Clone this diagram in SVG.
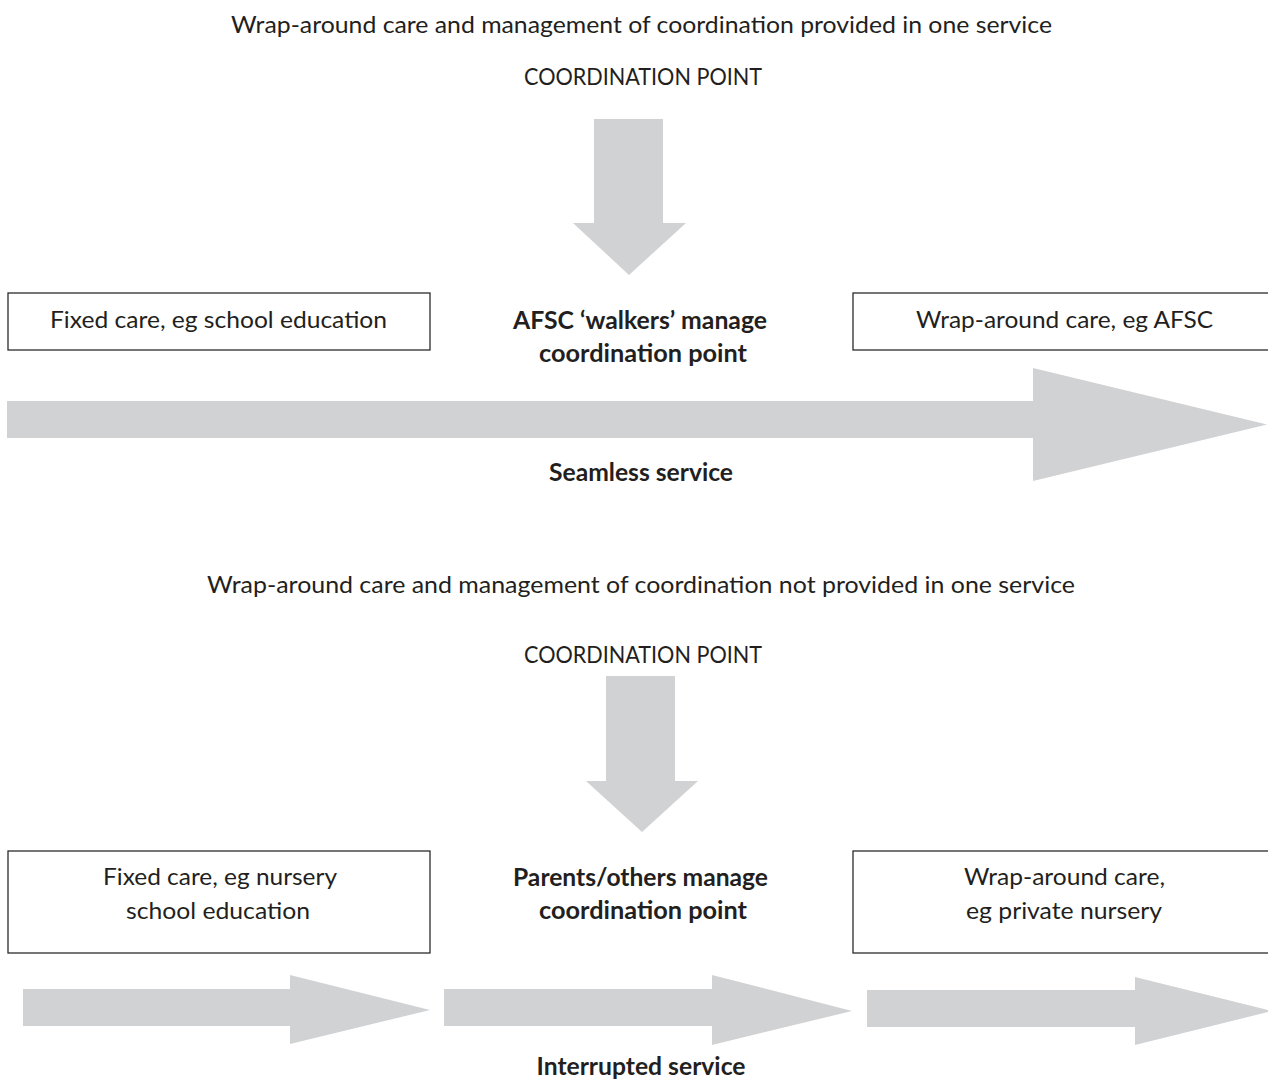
<svg xmlns="http://www.w3.org/2000/svg" width="1268" height="1084" viewBox="0 0 1268 1084">
  <style>
    .bg { fill: #ffffff; }
    .arrow { fill: #d1d2d4; stroke: none; }
    .box { fill: #ffffff; stroke: #2b2b2b; stroke-width: 1.3; }
    text { font-family: Lato, "Liberation Sans", sans-serif; fill: #231f20; text-anchor: middle; }
    .reg { font-size: 23px; }
    .bold { font-size: 24px; font-weight: bold; }
  </style>

  <rect class="bg" x="0" y="0" width="1268" height="1084"/>

  <!-- Upper panel: seamless service -->
  <g id="panel-top-titles">
    <text class="reg" x="641.5" y="33" textLength="821" lengthAdjust="spacingAndGlyphs">Wrap-around care and management of coordination provided in one service</text>
    <text class="reg" x="643" y="85" textLength="238" lengthAdjust="spacingAndGlyphs">COORDINATION POINT</text>
  </g>

  <g id="connectors-top">
    <!-- coordination point pointer -->
    <polygon class="arrow" points="594,119 663,119 663,223 686,223 629,275 573,223 594,223"/>
    <!-- continuous service arrow -->
    <polygon class="arrow" points="7,401 1033,401 1033,368 1267,424.5 1033,481 1033,438 7,438"/>
  </g>

  <g id="node-fixed-care-school">
    <rect class="box" x="8" y="293" width="422" height="57"/>
    <text class="reg" x="218.5" y="328" textLength="337" lengthAdjust="spacingAndGlyphs">Fixed care, eg school education</text>
  </g>

  <g id="node-afsc-walkers">
    <text class="bold" x="640" y="329" textLength="254" lengthAdjust="spacingAndGlyphs">AFSC ‘walkers’ manage</text>
    <text class="bold" x="643" y="362" textLength="208" lengthAdjust="spacingAndGlyphs">coordination point</text>
  </g>

  <g id="node-wrap-around-afsc">
    <rect class="box" x="853" y="293" width="422" height="57"/>
    <text class="reg" x="1064.5" y="328" textLength="297" lengthAdjust="spacingAndGlyphs">Wrap-around care, eg AFSC</text>
  </g>

  <g id="label-seamless">
    <text class="bold" x="641" y="481" textLength="184" lengthAdjust="spacingAndGlyphs">Seamless service</text>
  </g>

  <!-- Lower panel: interrupted service -->
  <g id="panel-bottom-titles">
    <text class="reg" x="641" y="593" textLength="868" lengthAdjust="spacingAndGlyphs">Wrap-around care and management of coordination not provided in one service</text>
    <text class="reg" x="643" y="663" textLength="238" lengthAdjust="spacingAndGlyphs">COORDINATION POINT</text>
  </g>

  <g id="connectors-bottom">
    <polygon class="arrow" points="606,676 675,676 675,781 698,781 642,832 586,781 606,781"/>
    <polygon class="arrow" points="23,989 290,989 290,975 430,1010 290,1044 290,1026 23,1026"/>
    <polygon class="arrow" points="444,989 712,989 712,975 852,1011 712,1045 712,1026 444,1026"/>
    <polygon class="arrow" points="867,990 1135,990 1135,977 1272,1011 1135,1045 1135,1027 867,1027"/>
  </g>

  <g id="node-fixed-care-nursery">
    <rect class="box" x="8" y="851" width="422" height="102"/>
    <text class="reg" x="220" y="885" textLength="234" lengthAdjust="spacingAndGlyphs">Fixed care, eg nursery</text>
    <text class="reg" x="218" y="919" textLength="184" lengthAdjust="spacingAndGlyphs">school education</text>
  </g>

  <g id="node-parents-others">
    <text class="bold" x="640.5" y="886" textLength="255" lengthAdjust="spacingAndGlyphs">Parents/others manage</text>
    <text class="bold" x="643" y="919" textLength="208" lengthAdjust="spacingAndGlyphs">coordination point</text>
  </g>

  <g id="node-wrap-around-private">
    <rect class="box" x="853" y="851" width="422" height="102"/>
    <text class="reg" x="1064.5" y="885" textLength="201" lengthAdjust="spacingAndGlyphs">Wrap-around care,</text>
    <text class="reg" x="1064" y="919" textLength="196" lengthAdjust="spacingAndGlyphs">eg private nursery</text>
  </g>

  <g id="label-interrupted">
    <text class="bold" x="641" y="1075" textLength="209" lengthAdjust="spacingAndGlyphs">Interrupted service</text>
  </g>
</svg>
